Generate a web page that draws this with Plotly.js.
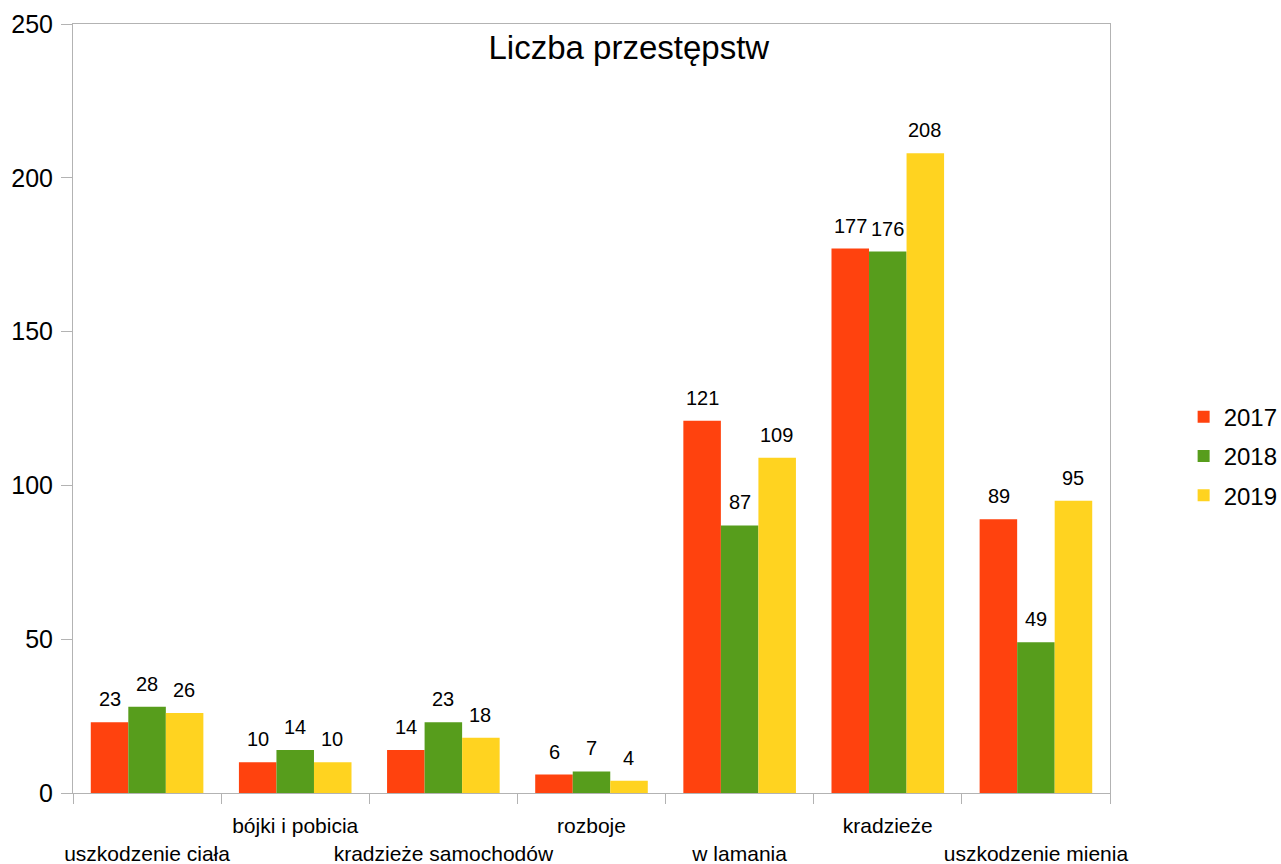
<!DOCTYPE html>
<html>
<head>
<meta charset="utf-8">
<script src="https://cdn.plot.ly/plotly-3.0.1.min.js"></script>
<style>html,body{margin:0;padding:0;background:#fff;}#chart{width:1281px;height:864px;}</style>
</head>
<body>
<div id="chart"></div>
<script>
const categories = ["uszkodzenie ciała", "bójki i pobicia", "kradzieże samochodów", "rozboje", "w lamania", "kradzieże", "uszkodzenie mienia"];
const years = ["2017", "2018", "2019"];
const values2017 = [23, 10, 14, 6, 121, 177, 89];
const values2018 = [28, 14, 23, 7, 87, 176, 49];
const values2019 = [26, 10, 18, 4, 109, 208, 95];
const colors = ["#ff420e", "#579d1c", "#ffd320"];
const titleText = "Liczba przestępstw";

const series = [values2017, values2018, values2019];
const FONT = "Liberation Sans, Arial, sans-serif";

const traces = series.map((vals, i) => ({
  type: "bar",
  name: years[i],
  legendgroup: "g" + i,
  x: categories,
  y: vals,
  marker: {color: colors[i], line: {width: 0}},
  hoverinfo: "x+y+name"
}));

// staggered category labels
const ticktext = categories.map((c, i) => (i % 2 === 0 ? "<br>" + c : c));

// data labels above bars
const barShift = 37;
const annotations = [];
series.forEach((vals, s) => {
  vals.forEach((v, i) => {
    annotations.push({
      x: categories[i], y: v, xref: "x", yref: "y",
      text: String(v), showarrow: false,
      xanchor: "center", yanchor: "bottom",
      xshift: (s - 1) * barShift, yshift: 10,
      font: {family: FONT, size: 20, color: "#000"}
    });
  });
});

const layout = {
  width: 1281, height: 864,
  paper_bgcolor: "#fff", plot_bgcolor: "#fff",
  margin: {l: 73, r: 171, t: 24, b: 71, autoexpand: false},
  font: {family: FONT, color: "#000"},
  title: {
    text: titleText,
    font: {family: FONT, size: 33, color: "#000"},
    x: 0.536, xref: "paper", xanchor: "center",
    y: 0.945, yref: "container", yanchor: "middle"
  },
  barmode: "group",
  bargap: 0.24,
  bargroupgap: 0,
  showlegend: true,
  legend: {
    x: 1.071, xref: "paper", xanchor: "left",
    y: 0.438, yanchor: "middle",
    font: {family: FONT, size: 24, color: "#000"},
    itemsizing: "constant",
    traceorder: "grouped",
    tracegroupgap: 5,
    bgcolor: "rgba(0,0,0,0)"
  },
  xaxis: {
    type: "category",
    tickmode: "array",
    tickvals: categories,
    ticktext: ticktext,
    tickson: "boundaries",
    ticks: "outside", ticklen: 10, tickcolor: "#b3b3b3", tickwidth: 1,
    tickfont: {family: FONT, size: 21, color: "#000"},
    ticklabelstandoff: 14,
    tickangle: 0,
    showline: true, linecolor: "#b3b3b3", linewidth: 1, mirror: true,
    showgrid: false, zeroline: false,
    automargin: false,
    fixedrange: true
  },
  yaxis: {
    range: [0, 250],
    tickvals: [0, 50, 100, 150, 200, 250],
    ticks: "outside", ticklen: 11, tickcolor: "#b3b3b3", tickwidth: 1,
    tickfont: {family: FONT, size: 25, color: "#000"},
    ticklabelstandoff: 3,
    showline: true, linecolor: "#b3b3b3", linewidth: 1, mirror: true,
    showgrid: false, zeroline: false,
    automargin: false,
    fixedrange: true
  },
  annotations: annotations
};

Plotly.newPlot("chart", traces, layout, {displayModeBar: false, staticPlot: false});
</script>
</body>
</html>
